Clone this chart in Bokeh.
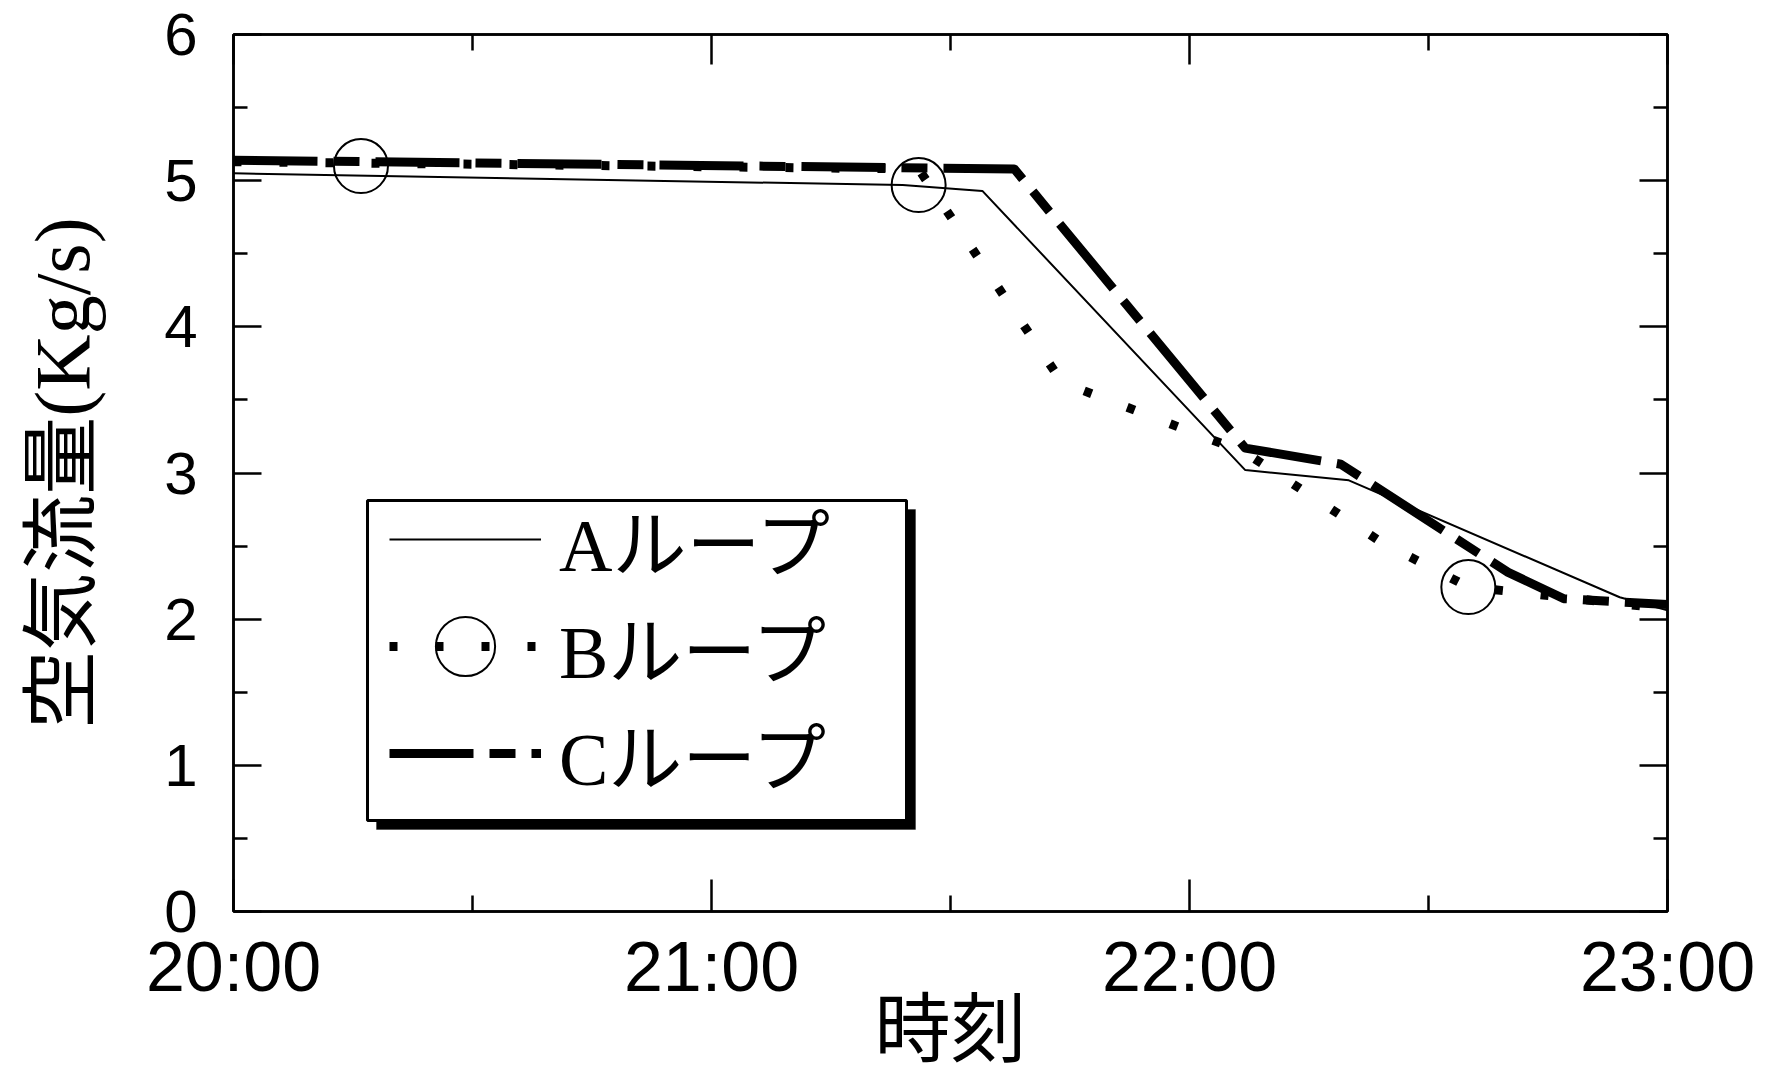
from bokeh.plotting import figure
from bokeh.models import FixedTicker, LinearAxis, Legend, LegendItem, BoxAnnotation
from bokeh.embed import file_html
from bokeh.resources import INLINE

# time = minutes after 20:00
a_t = [0, 84, 94, 127, 140, 174, 180]
a_y = [5.05, 4.97, 4.93, 3.02, 2.95, 2.15, 2.06]

b_t = [0, 86, 104, 127, 144, 155, 162, 180]
b_y = [5.13, 5.08, 3.62, 3.14, 2.53, 2.22, 2.18, 2.07]

b_mark_t = [16, 86, 155]
b_mark_y = [5.10, 4.97, 2.22]

c_t = [0, 98, 127, 139, 160, 167, 180]
c_y = [5.14, 5.08, 3.17, 3.06, 2.32, 2.14, 2.10]

x_ticks = [0, 60, 120, 180]
x_tick_labels = ["20:00", "21:00", "22:00", "23:00"]
x_minor = [30, 90, 150]
y_ticks = [0, 1, 2, 3, 4, 5, 6]
y_minor = [0.5, 1.5, 2.5, 3.5, 4.5, 5.5]

series_labels = ["Aループ", "Bループ", "Cループ"]
x_title = "時刻"
y_title = "空気流量(Kg/s)"

serif_jp = "'Liberation Serif', 'Noto Sans CJK JP'"
sans = "'Liberation Sans', 'Noto Sans CJK JP'"

p = figure(width=1769, height=1075, x_range=(0, 180), y_range=(0, 6),
           output_backend="svg", toolbar_location=None,
           min_border_left=233, min_border_right=102,
           min_border_top=34, min_border_bottom=164)
p.grid.visible = False
p.background_fill_color = "white"
p.border_fill_color = "white"
p.outline_line_color = "black"
p.outline_line_width = 2.5


def style_axis(ax, ticks, minor, labels, show_labels, major_in, minor_in, size):
    ax.ticker = FixedTicker(ticks=ticks, minor_ticks=minor)
    if show_labels:
        ax.major_label_overrides = {t: l for t, l in zip(ticks, labels)}
    else:
        ax.major_label_overrides = {t: "" for t in ticks}
    ax.axis_line_color = "black"
    ax.axis_line_width = 2.5
    ax.major_tick_line_color = "black"
    ax.major_tick_line_width = 2.5
    ax.minor_tick_line_color = "black"
    ax.minor_tick_line_width = 2.5
    ax.major_tick_in = major_in
    ax.major_tick_out = 0
    ax.minor_tick_in = minor_in
    ax.minor_tick_out = 0
    ax.major_label_text_font = sans
    ax.major_label_text_font_size = size
    ax.major_label_text_color = "black"
    ax.axis_label_text_font = serif_jp
    ax.axis_label_text_font_style = "normal"
    ax.axis_label_text_color = "black"


y_labels = [str(v) for v in y_ticks]
xa = p.xaxis[0]
ya = p.yaxis[0]
style_axis(xa, x_ticks, x_minor, x_tick_labels, True, 32, 16, "70px")
style_axis(ya, y_ticks, y_minor, y_labels, True, 28, 14, "60px")
xa.major_label_standoff = 16
xa.axis_label = x_title
xa.axis_label_text_font_size = "76px"
xa.axis_label_standoff = -21
ya.major_label_standoff = 36
ya.axis_label = y_title
ya.axis_label_text_font_size = "78px"
ya.axis_label_standoff = 55

top_ax = LinearAxis()
style_axis(top_ax, x_ticks, x_minor, x_tick_labels, False, 30, 16, "10px")
top_ax.major_label_standoff = 0
p.add_layout(top_ax, "above")
right_ax = LinearAxis()
style_axis(right_ax, y_ticks, y_minor, y_labels, False, 28, 14, "10px")
right_ax.major_label_standoff = 0
p.add_layout(right_ax, "right")

ra = p.line(a_t, a_y, line_color="black", line_width=2)
rb = p.line(b_t, b_y, line_color="black", line_width=9, line_dash="8 38")
rbm = p.ellipse(b_mark_t, b_mark_y, width=54, height=54,
                width_units="screen", height_units="screen",
                fill_color=None, line_color="black", line_width=2)
rc = p.line(c_t, c_y, line_color="black", line_width=9, line_dash="84 16 26 16",
            line_join="round")

# legend frame with drop shadow (screen units relative to the plot frame)
shadow = BoxAnnotation(left=143, right=682, bottom=82, top=402,
                       left_units="screen", right_units="screen",
                       bottom_units="screen", top_units="screen",
                       fill_color="black", fill_alpha=1, line_color="black",
                       line_width=1)
box = BoxAnnotation(left=134, right=673, bottom=91, top=411,
                    left_units="screen", right_units="screen",
                    bottom_units="screen", top_units="screen",
                    fill_color="white", fill_alpha=1, line_color="black",
                    line_width=3, line_alpha=1)
p.add_layout(shadow, "center")
p.add_layout(box, "center")

legend = Legend(items=[LegendItem(label=series_labels[0], renderers=[ra]),
                       LegendItem(label=series_labels[1], renderers=[rb, rbm]),
                       LegendItem(label=series_labels[2], renderers=[rc])],
                location=(156, 105), padding=0, spacing=0,
                glyph_width=152, glyph_height=74, label_height=74,
                label_standoff=18, label_width=300,
                label_text_font=serif_jp, label_text_font_size="74px",
                label_text_color="black",
                border_line_color=None, background_fill_alpha=0)
p.add_layout(legend, "center")

open("out.html", "w").write(file_html(p, INLINE))
